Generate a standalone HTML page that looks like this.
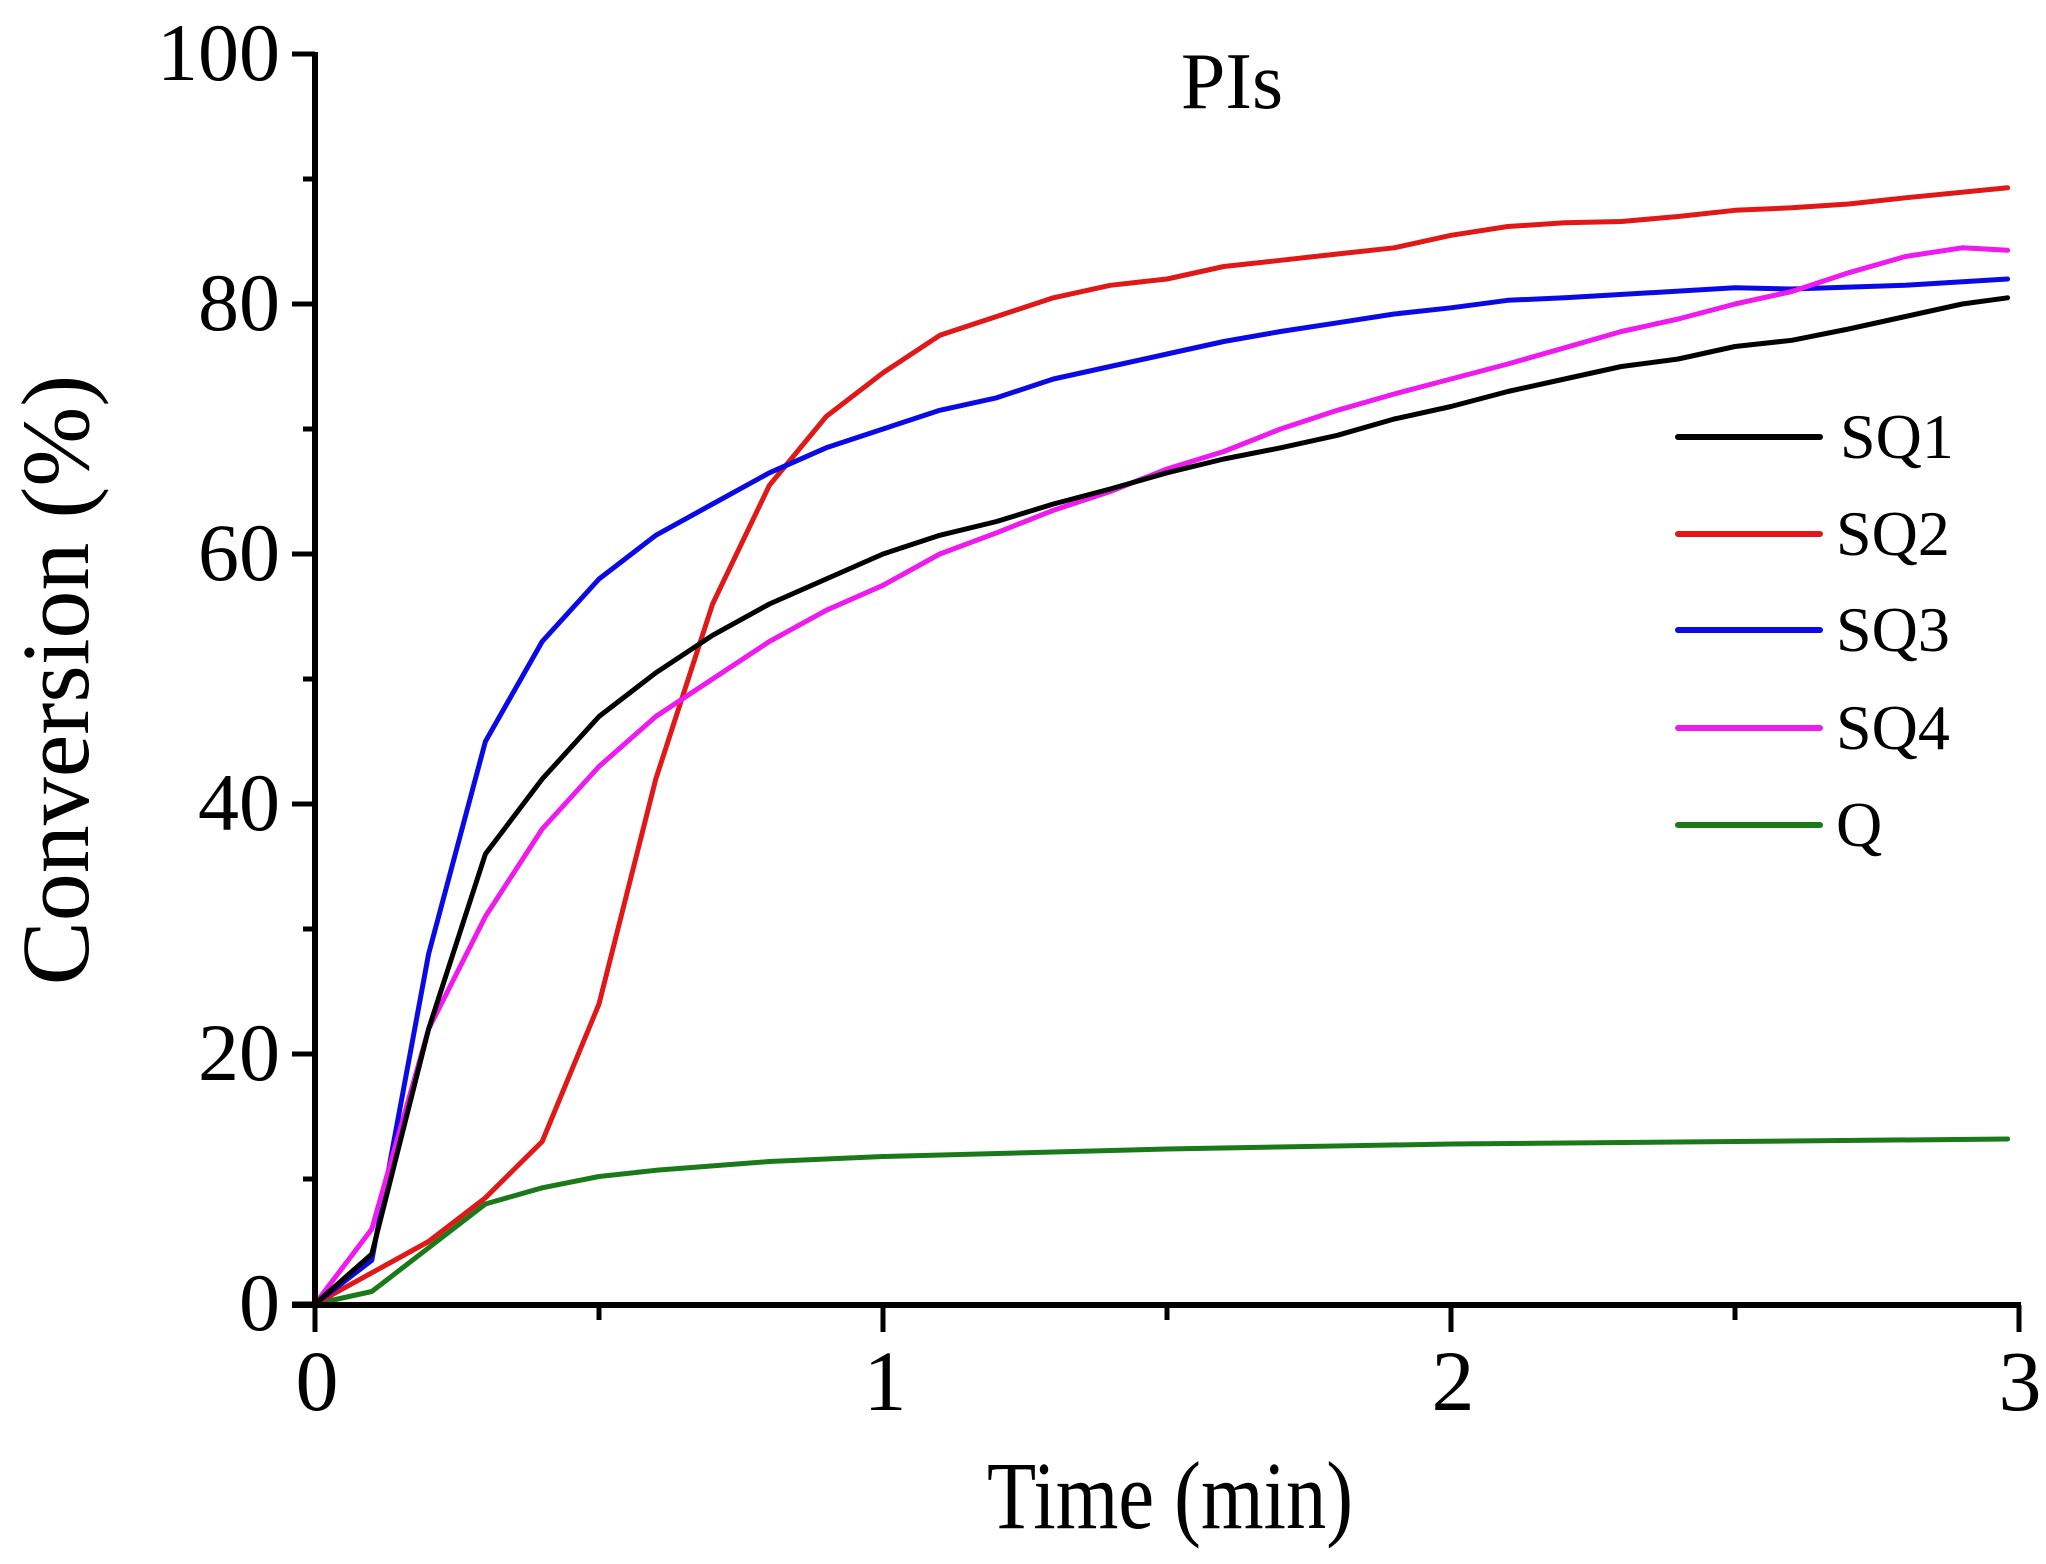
<!DOCTYPE html>
<html><head><meta charset="utf-8"><style>html,body{margin:0;padding:0;background:#fff}svg{display:block}</style></head>
<body>
<svg id="s" width="2046" height="1564" viewBox="0 0 2046 1564" xmlns="http://www.w3.org/2000/svg" font-family="Liberation Serif, serif">
<g id="plot" fill="none" stroke-width="5" stroke-linejoin="round" stroke-linecap="round"></g>
<g stroke="#000" stroke-width="6" fill="none">
<line x1="315" y1="52" x2="315" y2="1307"/>
<line x1="292" y1="1305" x2="2021" y2="1305"/>
</g>
<g id="ticks" stroke="#000" stroke-width="5"></g>
<g font-size="82" fill="#000" text-anchor="end">
<text x="280" y="80">100</text><text x="280" y="330">80</text><text x="280" y="580">60</text><text x="280" y="830">40</text><text x="280" y="1080">20</text><text x="280" y="1330">0</text>
</g>
<g font-size="86" fill="#000" text-anchor="middle">
<text x="317" y="1410">0</text><text x="885" y="1410">1</text><text x="1453" y="1410">2</text><text x="2020" y="1410">3</text>
</g>
<text x="987" y="1528" font-size="96" textLength="366" lengthAdjust="spacingAndGlyphs">Time (min)</text>
<text transform="translate(88,680) rotate(-90)" font-size="96" text-anchor="middle">Conversion (%)</text>
<text x="1232" y="108" font-size="80" text-anchor="middle">PIs</text>
<g stroke-width="6" stroke-linecap="round">
<line x1="1678" y1="437" x2="1820" y2="437" stroke="#000"/>
<line x1="1678" y1="534" x2="1820" y2="534" stroke="#e01818"/>
<line x1="1678" y1="630" x2="1820" y2="630" stroke="#0a0ae6"/>
<line x1="1678" y1="728" x2="1820" y2="728" stroke="#ee1aee"/>
<line x1="1678" y1="825" x2="1820" y2="825" stroke="#1a7a1a"/>
</g>
<g font-size="64" fill="#000">
<text x="1840" y="458">SQ1</text><text x="1836" y="555">SQ2</text><text x="1836" y="651">SQ3</text><text x="1836" y="749">SQ4</text><text x="1836" y="846">Q</text>
</g>
</svg>
<script>
var X=function(t){return 315+t*568},Y=function(v){return 1304-v*12.5};
var data=[
["#1a7a1a",[[0,0],[0.1,1],[0.2,4.5],[0.3,8],[0.4,9.3],[0.5,10.2],[0.6,10.7],[0.8,11.4],[1,11.8],[1.5,12.4],[2,12.8],[2.5,13],[2.98,13.2]]],
["#e01818",[[0,0],[0.1,2.5],[0.2,5],[0.3,8.5],[0.4,13],[0.5,24],[0.6,42],[0.7,56],[0.8,65.5],[0.9,71],[1,74.5],[1.1,77.5],[1.2,79],[1.3,80.5],[1.4,81.5],[1.5,82],[1.6,83],[1.7,83.5],[1.8,84],[1.9,84.5],[2,85.5],[2.1,86.2],[2.2,86.5],[2.3,86.6],[2.4,87],[2.5,87.5],[2.6,87.7],[2.7,88],[2.8,88.5],[2.98,89.3]]],
["#0a0ae6",[[0,0],[0.1,3.5],[0.2,28],[0.3,45],[0.4,53],[0.5,58],[0.6,61.5],[0.7,64],[0.8,66.5],[0.9,68.5],[1,70],[1.1,71.5],[1.2,72.5],[1.3,74],[1.4,75],[1.5,76],[1.6,77],[1.7,77.8],[1.8,78.5],[1.9,79.2],[2,79.7],[2.1,80.3],[2.2,80.5],[2.5,81.3],[2.6,81.2],[2.8,81.5],[2.98,82]]],
["#ee1aee",[[0,0],[0.1,6],[0.2,22],[0.3,31],[0.4,38],[0.5,43],[0.6,47],[0.7,50],[0.8,53],[0.9,55.5],[1,57.5],[1.1,60],[1.2,61.7],[1.3,63.5],[1.4,65],[1.5,66.8],[1.6,68.2],[1.7,70],[1.8,71.5],[1.9,72.8],[2,74],[2.1,75.2],[2.2,76.5],[2.3,77.8],[2.4,78.8],[2.5,80],[2.6,81],[2.7,82.5],[2.8,83.8],[2.9,84.5],[2.98,84.3]]],
["#000",[[0,0],[0.1,4],[0.2,22],[0.3,36],[0.4,42],[0.5,47],[0.6,50.5],[0.7,53.5],[0.8,56],[0.9,58],[1,60],[1.1,61.5],[1.2,62.6],[1.3,64],[1.4,65.2],[1.5,66.5],[1.6,67.6],[1.7,68.5],[1.8,69.5],[1.9,70.8],[2,71.8],[2.1,73],[2.2,74],[2.3,75],[2.4,75.6],[2.5,76.6],[2.6,77.1],[2.7,78],[2.8,79],[2.9,80],[2.98,80.5]]]];
var ns="http://www.w3.org/2000/svg",g=document.getElementById("plot");
data.forEach(function(d){var p=document.createElementNS(ns,"polyline");p.setAttribute("stroke",d[0]);p.setAttribute("points",d[1].map(function(q){return X(q[0]).toFixed(1)+","+Y(q[1]).toFixed(1)}).join(" "));g.appendChild(p);});
var tk=document.getElementById("ticks");
function L(a,b,c,e){var l=document.createElementNS(ns,"line");l.setAttribute("x1",a);l.setAttribute("y1",b);l.setAttribute("x2",c);l.setAttribute("y2",e);tk.appendChild(l);}
for(var v=0;v<=100;v+=10){L(v%20?303:292,Y(v),315,Y(v));}
for(var t=0;t<=3;t+=0.5){L(X(t),1305,X(t),t%1?1320:1332);}
</script>
</body></html>
